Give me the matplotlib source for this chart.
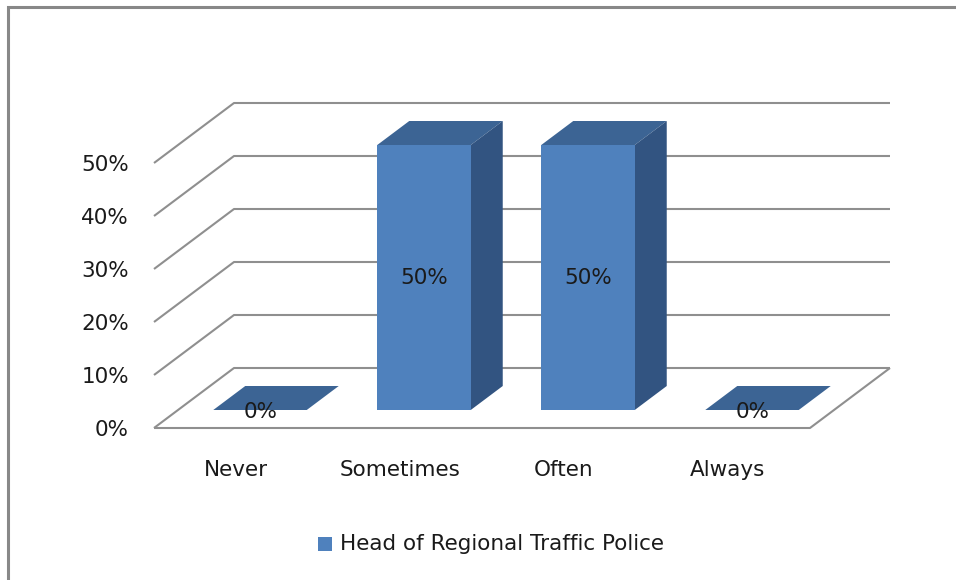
import matplotlib
matplotlib.use("Agg")
import matplotlib.pyplot as plt
from matplotlib.patches import Polygon, Rectangle

categories = ["Never", "Sometimes", "Often", "Always"]
values = [0.0, 0.5, 0.5, 0.0]
series_name = "Head of Regional Traffic Police"
y_ticks = [0.0, 0.1, 0.2, 0.3, 0.4, 0.5]
y_tick_labels = ["0%", "10%", "20%", "30%", "40%", "50%"]
value_labels = ["0%", "50%", "50%", "0%"]

W, H = 956, 580
FS = 15.5
TXT = "#1a1a1a"
fig = plt.figure(figsize=(W / 100, H / 100), dpi=100)
fig.patch.set_facecolor("white")

# front plane of the 3-D box, in pixels
front_left, front_right = 154, 810
front_bottom, front_top = 428, 163
ax = fig.add_axes([front_left / W, (H - front_bottom) / H,
                   (front_right - front_left) / W, (front_bottom - front_top) / H])
n = len(categories)
ax.set_xlim(0, n)
ax.set_ylim(0, 0.5)
ax.axis("off")

# oblique depth offset (data units for full depth)
DX = 80 / ((front_right - front_left) / n)
DY = 60 / ((front_bottom - front_top) / 0.5)


def proj(x, y, d):
    return (x + d * DX, y + d * DY)


grid_kw = dict(color="#8f8f8f", lw=1.5, clip_on=False, zorder=1, solid_capstyle="butt")

# floor and back-wall gridlines
for v in y_ticks:
    pts = [proj(0, v, 0), proj(0, v, 1), proj(n, v, 1)]
    ax.plot([p[0] for p in pts], [p[1] for p in pts], **grid_kw)
floor = [proj(0, 0, 0), proj(n, 0, 0), proj(n, 0, 1)]
ax.plot([p[0] for p in floor], [p[1] for p in floor], **grid_kw)

front_c = "#4f81bd"
side_c = "#325481"
top_c = "#3c6494"
bw = 0.57
d0, d1 = 0.3, 0.7

for i, v in enumerate(values):
    c = i + 0.5
    xl, xr = c - bw / 2, c + bw / 2
    top = [proj(xl, v, d0), proj(xr, v, d0), proj(xr, v, d1), proj(xl, v, d1)]
    ax.add_patch(Polygon(top, closed=True, fc=top_c, ec="none", clip_on=False, zorder=3))
    if v > 0:
        side = [proj(xr, 0, d0), proj(xr, v, d0), proj(xr, v, d1), proj(xr, 0, d1)]
        ax.add_patch(Polygon(side, closed=True, fc=side_c, ec="none", clip_on=False, zorder=3))
        front = [proj(xl, 0, d0), proj(xr, 0, d0), proj(xr, v, d0), proj(xl, v, d0)]
        ax.add_patch(Polygon(front, closed=True, fc=front_c, ec="none", clip_on=False, zorder=4))
        lx, ly = proj(c, v / 2, d0)
        ax.text(lx, ly, value_labels[i], ha="center", va="center", fontsize=FS,
                color=TXT, zorder=6)
    else:
        lx, ly = proj(c, 0, d0)
        ax.annotate(value_labels[i], xy=(lx, ly), xytext=(1, -2), textcoords="offset pixels",
                    ha="center", va="center", fontsize=FS, color=TXT, zorder=6,
                    annotation_clip=False)

# value axis labels
for v, lab in zip(y_ticks, y_tick_labels):
    ax.annotate(lab, xy=(0, v), xytext=(-25, -2), textcoords="offset pixels",
                ha="right", va="center", fontsize=FS, color=TXT, annotation_clip=False)

# category labels
for i, lab in enumerate(categories):
    ax.annotate(lab, xy=(i + 0.5, 0), xytext=(0, -42), textcoords="offset pixels",
                ha="center", va="center", fontsize=FS, color=TXT, annotation_clip=False)

# legend
fig.patches.append(Rectangle((318 / W, (H - 551) / H), 14 / W, 14 / H,
                             transform=fig.transFigure, fc=front_c, ec="none"))
fig.text(340 / W, (H - 544) / H, series_name, ha="left", va="center",
         fontsize=FS, color=TXT)

# chart area border
fig.patches.append(Rectangle((8 / W, -10 / H), (W + 20) / W, (H - 7 + 10) / H,
                             transform=fig.transFigure, fc="none", ec="#888888", lw=2.2))

fig.savefig("out.png", dpi=100, facecolor="white")
